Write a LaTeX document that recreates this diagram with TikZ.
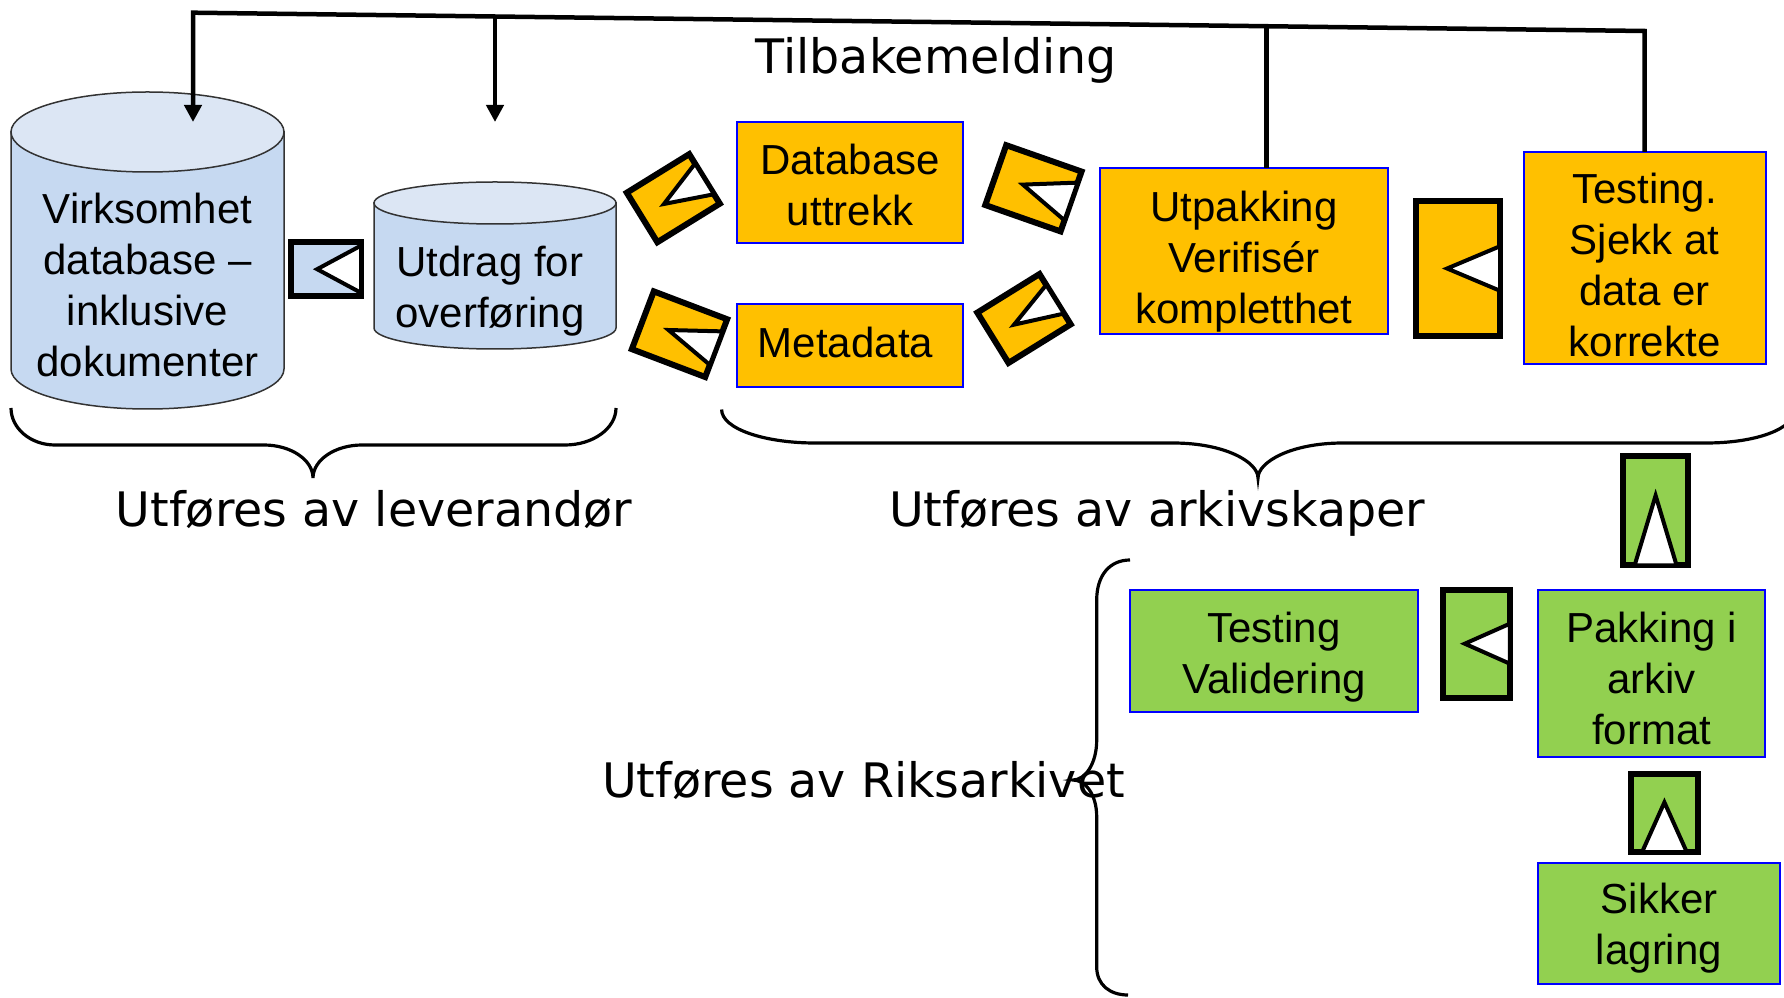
\documentclass[tikz,border=0pt]{standalone}
\usepackage{fontspec}
\setmainfont{Liberation Sans}
\newfontfamily\labelfont{DejaVu Sans}
\usepackage{tikz}
\usetikzlibrary{positioning}
\usetikzlibrary{shapes,arrows,calc,arrows.meta}

\definecolor{amber}{HTML}{FFC000}
\definecolor{leaf}{HTML}{92D050}
\definecolor{cylblue}{HTML}{C6D9F1}
\definecolor{cyltop}{HTML}{DCE6F4}

\begin{document}
\begin{tikzpicture}[x=1pt, y=1pt,
    box/.style={draw=blue, line width=2pt, rectangle, inner sep=0pt, outer sep=0pt},
    boxtext/.style={align=center, inner sep=0pt, font=\fontsize{42}{51}\selectfont},
    cylinder line/.style={draw=black!80, line width=1.5pt},
    glyph/.style={draw=black, line width=6pt, rectangle, inner sep=0pt, outer sep=0pt},
    notch/.style={fill=white, draw=black, line width=4pt, line join=miter},
    fbline/.style={line width=4.5pt},
    curly/.style={line width=3.2pt},
    caption/.style={anchor=base, font=\labelfont\fontsize{47.5}{57}\selectfont}]
    \useasboundingbox (0,0) rectangle (1784,997);
    \clip (0,0) rectangle (1784,997);

    % Cylinders
    \draw[fill=cylblue, cylinder line] (11,865) -- (11,628) arc[start angle=180, end angle=360, x radius=136.5, y radius=40] -- (284,865) -- cycle;
    \draw[fill=cyltop, cylinder line] (147.5,865) ellipse[x radius=136.5, y radius=40];
    \draw[fill=cylblue, cylinder line] (374,794) -- (374,669) arc[start angle=180, end angle=360, x radius=121, y radius=21] -- (616,794) -- cycle;
    \draw[fill=cyltop, cylinder line] (495,794) ellipse[x radius=121, y radius=21];
    \node[boxtext] (virk) at (147.5,712) {Virksomhet\\database –\\inklusive\\dokumenter};
    \node[boxtext] (utdrag) at (490,705.4) {Utdrag for\\overføring};

    % Nodes
    \node[box, fill=amber, minimum width=226pt, minimum height=121pt] (uttrekk) at (850,814.5) {};
    \node[box, fill=amber, minimum width=226pt, minimum height=83pt] (meta) at (850,651.5) {};
    \node[box, fill=amber, minimum width=288pt, minimum height=166pt] (utp) at (1244,746) {};
    \node[box, fill=amber, minimum width=242pt, minimum height=212pt] (test) at (1644.5,739) {};
    \node[box, fill=leaf, minimum width=288pt, minimum height=122pt] (valid) at (1274,346) {};
    \node[box, fill=leaf, minimum width=227pt, minimum height=167pt] (pakk) at (1651.5,323.5) {};
    \node[box, fill=leaf, minimum width=242pt, minimum height=121pt] (sikker) at (1659,73.5) {};

    \node[boxtext] (uttrekk-t) at ([yshift=-2.3pt]uttrekk.center) {Database\\uttrekk};
    \node[boxtext] (meta-t) at ([xshift=-4.5pt, yshift=3.4pt]meta.center) {Metadata};
    \node[boxtext] (utp-t) at ([yshift=-10.2pt]utp.center) {Utpakking\\Verifisér\\kompletthet};
    \node[boxtext] (test-t) at ([yshift=-7.4pt]test.center) {Testing.\\Sjekk at\\data er\\korrekte};
    \node[boxtext] (valid-t) at ([yshift=-6.3pt]valid.center) {Testing\\Validering};
    \node[boxtext] (pakk-t) at ([yshift=-5.3pt]pakk.center) {Pakking i\\arkiv\\format};
    \node[boxtext] (sikker-t) at ([yshift=-4.6pt]sikker.center) {Sikker\\lagring};

    % Arrow glyphs
    \node[glyph, fill=cylblue, minimum width=69.7pt, minimum height=54.3pt] (g1) at (326.2,727.8) {};
    \draw[notch] ($(g1.east)!0.87!(g1.north east)$) -- ($(g1.east)!0.63!(g1.west)$) -- ($(g1.east)!0.87!(g1.south east)$) -- cycle;
    \node[glyph, fill=amber, minimum width=73.4pt, minimum height=58.2pt, rotate=31.7] (g2) at (673.3,798.8) {};
    \draw[notch] ($(g2.east)!0.62!(g2.north east)$) -- ($(g2.east)!0.65!(g2.west)$) -- ($(g2.east)!0.62!(g2.south east)$) -- cycle;
    \node[glyph, fill=amber, minimum width=78.5pt, minimum height=61.8pt, rotate=-20.8] (g3) at (679.5,662.8) {};
    \draw[notch] ($(g3.east)!0.58!(g3.north east)$) -- ($(g3.east)!0.65!(g3.west)$) -- ($(g3.east)!0.58!(g3.south east)$) -- cycle;
    \node[glyph, fill=amber, minimum width=79.8pt, minimum height=63.4pt, rotate=-19.3] (g4) at (1033.4,808.7) {};
    \draw[notch] ($(g4.east)!0.63!(g4.north east)$) -- ($(g4.east)!0.64!(g4.west)$) -- ($(g4.east)!0.63!(g4.south east)$) -- cycle;
    \node[glyph, fill=amber, minimum width=73.2pt, minimum height=59.2pt, rotate=31.8] (g5) at (1024,678.5) {};
    \draw[notch] ($(g5.east)!0.57!(g5.north east)$) -- ($(g5.east)!0.66!(g5.west)$) -- ($(g5.east)!0.57!(g5.south east)$) -- cycle;
    \node[glyph, fill=amber, minimum width=84pt, minimum height=135pt] (g6) at (1458,728.5) {};
    \draw[notch] ($(g6.east)!0.33!(g6.north east)$) -- ($(g6.east)!0.63!(g6.west)$) -- ($(g6.east)!0.33!(g6.south east)$) -- cycle;
    \node[glyph, fill=leaf, minimum width=67.3pt, minimum height=108.2pt] (g7) at (1476.2,353.3) {};
    \draw[notch] ($(g7.east)!0.37!(g7.north east)$) -- ($(g7.east)!0.67!(g7.west)$) -- ($(g7.east)!0.37!(g7.south east)$) -- cycle;
    \node[glyph, fill=leaf, minimum width=109pt, minimum height=64.5pt, rotate=-90] (g8) at (1655.6,486.2) {};
    \draw[notch] ($(g8.east)!0.65!(g8.north east)$) -- ($(g8.east)!0.64!(g8.west)$) -- ($(g8.east)!0.65!(g8.south east)$) -- cycle;
    \node[glyph, fill=leaf, minimum width=77.7pt, minimum height=66.2pt, rotate=-90] (g9) at (1664.4,183.8) {};
    \draw[notch] ($(g9.east)!0.675!(g9.north east)$) -- ($(g9.east)!0.64!(g9.west)$) -- ($(g9.east)!0.675!(g9.south east)$) -- cycle;

    % Feedback
    \coordinate (fbL) at (193,984.3);
    \coordinate (fbR) at (1644.5,966);
    \coordinate (fbA) at (495,980.5);
    \coordinate (fbB) at (1266.5,970.5);
    \coordinate (tipA) at (193,875);
    \coordinate (tipB) at (495,875);
    \draw[fbline, -{Triangle[length=17pt,width=17pt]}] (test.north) -- (fbR) -- (fbL) -- (tipA);
    \draw[fbline, -{Triangle[length=17pt,width=17pt]}] (fbA) -- (tipB);
    \draw[fbline] (fbB) -- (fbB |- utp.north);

    % Braces
    \draw[curly] (11,589) .. controls (11,568.6) and (30.7,552) .. (55,552) -- (264,552) .. controls (291,552) and (313,537) .. (313,519) .. controls (313,537) and (335,552) .. (362,552) -- (565,552) .. controls (593,552) and (616,568.6) .. (616,589);
    \draw[curly] (721.6,587.5) .. controls (721.6,568) and (765,554) .. (815,554) -- (1173,554) .. controls (1225,554) and (1258,535) .. (1258,519) .. controls (1258,535) and (1291,554) .. (1343,554) -- (1706,554) .. controls (1756,554) and (1795,568) .. (1795,588);
    \draw[curly] (1130,437) .. controls (1110,437) and (1096.7,422) .. (1096.7,397) -- (1096.7,257) .. controls (1096.7,233) and (1085,217) .. (1073,217) .. controls (1085,217) and (1096.7,203) .. (1096.7,180) -- (1096.7,30) .. controls (1096.7,12) and (1110,2) .. (1128,2);

    % Labels
    \node[caption] (tilbake) at (936,923) {Tilbakemelding};
    \node[caption] (lev) at (374,471) {Utføres av leverandør};
    \node[caption] (ark) at (1157,471) {Utføres av arkivskaper};
    \node[caption] (riks) at (863.5,200) {Utføres av Riksarkivet};
\end{tikzpicture}
\end{document}
